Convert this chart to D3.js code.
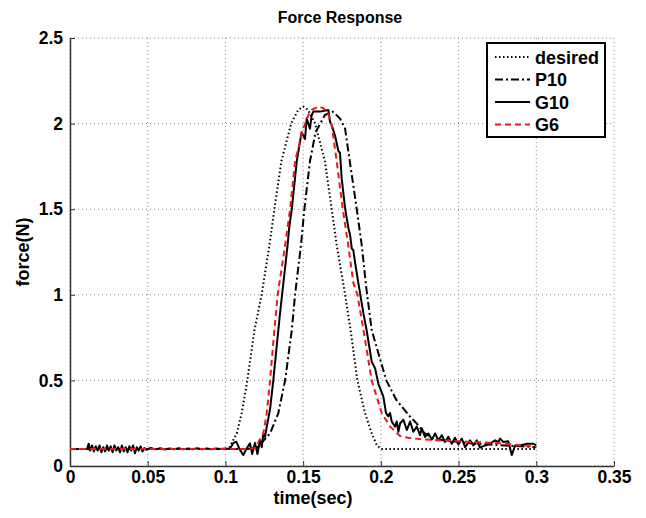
<!DOCTYPE html>
<html>
<head>
<meta charset="utf-8">
<script src="https://cdn.jsdelivr.net/npm/d3@7"></script>
<style>
  body { margin: 0; background: #fff; }
  text { font-family: "Liberation Sans", Arial, sans-serif; font-weight: bold; }
</style>
</head>
<body>
<script>

// data, [time, force]
var desired = [[0,0.1],[0.102,0.1],[0.1073,0.19],[0.1105,0.31],[0.1141,0.5],[0.1186,0.79],[0.1233,1.0],
  [0.1283,1.29],[0.1315,1.5],[0.136,1.78],[0.1423,2.0],[0.1468,2.08],[0.150,2.1],[0.1532,2.08],[0.1577,2.0],
  [0.164,1.78],[0.1684,1.5],[0.1716,1.29],[0.177,1.0],[0.1806,0.79],[0.1849,0.5],[0.1898,0.31],
  [0.1941,0.19],[0.1975,0.12],[0.2,0.1],[0.3,0.1]]

var p10 = [[0,0.1],[0.115,0.1],[0.121,0.113],[0.1287,0.19],[0.134,0.308],[0.1384,0.5],[0.1427,0.794],
  [0.1448,1.0],[0.1459,1.086],[0.1486,1.29],[0.1508,1.5],[0.1544,1.78],[0.158,1.95],[0.164,2.05],
  [0.169,2.07],[0.1737,2.03],[0.177,1.97],[0.180,1.78],[0.1845,1.5],[0.1877,1.29],[0.1905,1.05],
  [0.1941,0.794],[0.2035,0.5],[0.21,0.386],[0.2188,0.288],[0.223,0.249],[0.228,0.192],[0.2337,0.163],
  [0.24,0.15],[0.25,0.14],[0.26,0.13],[0.27,0.125],[0.28,0.12],[0.29,0.115],[0.3,0.11]]

var g10 = [[0.011,0.1],[0.012,0.13],[0.013,0.09],[0.0142,0.12],[0.0154,0.085],[0.0166,0.115],[0.0178,0.09],
  [0.019,0.12],[0.0202,0.08],[0.0214,0.11],[0.0226,0.085],[0.0238,0.12],[0.025,0.09],[0.0262,0.115],
  [0.0274,0.08],[0.0286,0.12],[0.0298,0.09],[0.031,0.11],[0.0322,0.08],[0.0334,0.12],[0.0346,0.085],
  [0.0358,0.11],[0.037,0.08],[0.0382,0.115],[0.0394,0.09],[0.0406,0.12],[0.0418,0.075],[0.043,0.11],
  [0.0442,0.09],[0.0454,0.115],[0.0466,0.085],[0.0478,0.105],[0.049,0.095],[0.052,0.105],[0.055,0.097],
  [0.058,0.104],[0.061,0.096],[0.064,0.103],[0.067,0.098],[0.070,0.104],[0.073,0.097],[0.076,0.103],
  [0.079,0.098],[0.082,0.104],[0.085,0.097],[0.088,0.103],[0.091,0.098],[0.094,0.102],[0.097,0.099],
  [0.100,0.102],[0.103,0.1],[0.105,0.134],[0.107,0.142],[0.109,0.1],[0.1115,0.064],[0.1135,0.1],
  [0.1158,0.132],[0.1172,0.07],[0.119,0.135],[0.1206,0.07],[0.1223,0.152],[0.1234,0.11],[0.1244,0.19],
  [0.1255,0.17],[0.1266,0.23],[0.1287,0.33],[0.1308,0.5],[0.133,0.7],[0.1351,0.89],[0.1373,1.07],
  [0.140,1.29],[0.141,1.39],[0.1427,1.5],[0.1459,1.78],[0.148,1.895],[0.149,1.95],[0.1512,1.91],
  [0.1523,2.03],[0.1544,1.97],[0.1555,2.05],[0.1566,2.07],[0.1609,2.07],[0.1662,2.08],[0.1673,2.01],
  [0.1684,1.99],[0.1705,1.93],[0.1727,1.84],[0.1737,1.83],[0.1748,1.68],[0.177,1.505],[0.1791,1.39],
  [0.1802,1.35],[0.1813,1.27],[0.1823,1.26],[0.1834,1.19],[0.1855,1.07],[0.1888,0.89],[0.1909,0.79],
  [0.1941,0.61],[0.1963,0.57],[0.1984,0.48],[0.2016,0.405],[0.2033,0.31],[0.2048,0.29],[0.2059,0.31],
  [0.207,0.26],[0.2091,0.23],[0.2102,0.26],[0.2113,0.2],[0.2124,0.25],[0.2145,0.27],[0.2167,0.21],
  [0.2188,0.26],[0.2209,0.2],[0.2231,0.23],[0.2252,0.18],[0.2263,0.22],[0.2284,0.17],[0.2306,0.19],
  [0.2328,0.155],[0.2349,0.19],[0.237,0.15],[0.2392,0.18],[0.2413,0.14],[0.2434,0.17],[0.2456,0.13],
  [0.2477,0.165],[0.2499,0.125],[0.2521,0.16],[0.2542,0.11],[0.2574,0.15],[0.2595,0.12],[0.2617,0.15],
  [0.2638,0.107],[0.2671,0.12],[0.2703,0.13],[0.2735,0.15],[0.2756,0.14],[0.2767,0.16],[0.2788,0.14],
  [0.282,0.145],[0.2842,0.064],[0.2864,0.12],[0.2896,0.12],[0.2939,0.13],[0.2981,0.13],[0.3,0.12]]

var g6 = [[0,0.1],[0.115,0.1],[0.119,0.105],[0.1244,0.19],[0.1266,0.308],[0.1287,0.5],[0.1315,0.794],
  [0.1336,1.0],[0.1384,1.29],[0.1416,1.5],[0.1448,1.78],[0.150,1.97],[0.1534,2.05],[0.1555,2.08],
  [0.160,2.1],[0.163,2.09],[0.166,2.06],[0.1684,1.99],[0.1716,1.78],[0.1755,1.5],[0.179,1.29],
  [0.1823,1.07],[0.1849,1.0],[0.1888,0.794],[0.1941,0.5],[0.2006,0.308],[0.206,0.23],[0.2124,0.175],
  [0.2175,0.165],[0.225,0.157],[0.2337,0.152],[0.255,0.142],[0.2767,0.133],[0.3,0.113]]

var xTicks = [0, 0.05, 0.1, 0.15, 0.2, 0.25, 0.3, 0.35]
var yTicks = [0, 0.5, 1, 1.5, 2, 2.5]
var seriesNames = ["desired", "P10", "G10", "G6"]

var width = 646, height = 518
// plot box (top is a reserved global in browsers, so prefixed names)
var pLeft = 70, pRight = 614, pTop = 38, pBottom = 466

var x = d3.scaleLinear().domain([0, 0.35]).range([pLeft, pRight])
var y = d3.scaleLinear().domain([0, 2.5]).range([pBottom, pTop])

var svg = d3.select("body").append("svg")
    .attr("width", width)
    .attr("height", height)

// grid
var grid = svg.append("g")
grid.selectAll(".gx")
    .data(xTicks)
    .enter()
    .append("line")
    .attr("x1", (d) => {return x(d)})
    .attr("x2", (d) => {return x(d)})
    .attr("y1", pTop)
    .attr("y2", pBottom)
    .attr("stroke", "#8a8a8a")
    .attr("stroke-width", 1)
    .attr("stroke-dasharray", "1,3")
grid.selectAll(".gy")
    .data(yTicks)
    .enter()
    .append("line")
    .attr("x1", pLeft)
    .attr("x2", pRight)
    .attr("y1", (d) => {return y(d)})
    .attr("y2", (d) => {return y(d)})
    .attr("stroke", "#8a8a8a")
    .attr("stroke-width", 1)
    .attr("stroke-dasharray", "1,3")

// axes
svg.append("g")
    .attr("transform", "translate(0," + pBottom + ")")
    .call(d3.axisBottom(x).tickValues(xTicks).tickSizeInner(-5).tickSizeOuter(0).tickPadding(5)
        .tickFormat((d) => {return String(+d.toFixed(2))}))
svg.append("g")
    .attr("transform", "translate(" + pLeft + ",0)")
    .call(d3.axisLeft(y).tickValues(yTicks).tickSizeInner(-5).tickSizeOuter(0).tickPadding(7)
        .tickFormat((d) => {return String(d)}))

svg.selectAll(".domain").attr("stroke", "#333").attr("stroke-width", 1.5)
svg.selectAll(".tick line").attr("stroke", "#333")
svg.selectAll(".tick text")
    .attr("font-size", 17.5)
    .attr("font-family", "Liberation Sans, Arial, sans-serif")
    .attr("font-weight", "bold")
    .attr("fill", "#000")

// lines
var line = d3.line()
    .x((d) => {return x(d[0])})
    .y((d) => {return y(d[1])})

var styles = [
  {data: desired, color: "#000", dash: "1.5,2.5"},
  {data: p10, color: "#000", dash: "8,3,2,3"},
  {data: g10, color: "#000", dash: null},
  {data: g6, color: "#f01818", dash: "6,4"}
]

svg.append("g")
    .selectAll("path")
    .data(styles)
    .enter()
    .append("path")
    .attr("d", (d) => {return line(d.data)})
    .attr("fill", "none")
    .attr("stroke", (d) => {return d.color})
    .attr("stroke-width", 2)
    .attr("stroke-linejoin", "round")
    .attr("stroke-dasharray", (d) => {return d.dash})

// title and labels
svg.append("text")
    .attr("x", 340)
    .attr("y", 23)
    .attr("text-anchor", "middle")
    .attr("font-size", 16)
    .text("Force Response")

svg.append("text")
    .attr("x", 313)
    .attr("y", 504)
    .attr("text-anchor", "middle")
    .attr("font-size", 18)
    .text("time(sec)")

svg.append("text")
    .attr("transform", "translate(29," + ((pTop + pBottom) / 2) + ") rotate(-90)")
    .attr("text-anchor", "middle")
    .attr("font-size", 18)
    .text("force(N)")

// legend
var legend = svg.append("g")
legend.append("rect")
    .attr("x", 487)
    .attr("y", 43)
    .attr("width", 118)
    .attr("height", 94)
    .attr("fill", "#fff")
    .attr("stroke", "#000")
    .attr("stroke-width", 2)

var items = legend.selectAll(".item")
    .data(styles)
    .enter()
    .append("g")
    .attr("transform", (d, i) => {return "translate(0," + (57 + i * 22.5) + ")"})
items.append("line")
    .attr("x1", 495)
    .attr("x2", 530)
    .attr("y1", 0)
    .attr("y2", 0)
    .attr("stroke", (d) => {return d.color})
    .attr("stroke-width", 2)
    .attr("stroke-dasharray", (d) => {return d.dash})
items.append("text")
    .attr("x", 535)
    .attr("y", 6.5)
    .attr("font-size", 18)
    .text((d, i) => {return seriesNames[i]})

</script>
</body>
</html>
